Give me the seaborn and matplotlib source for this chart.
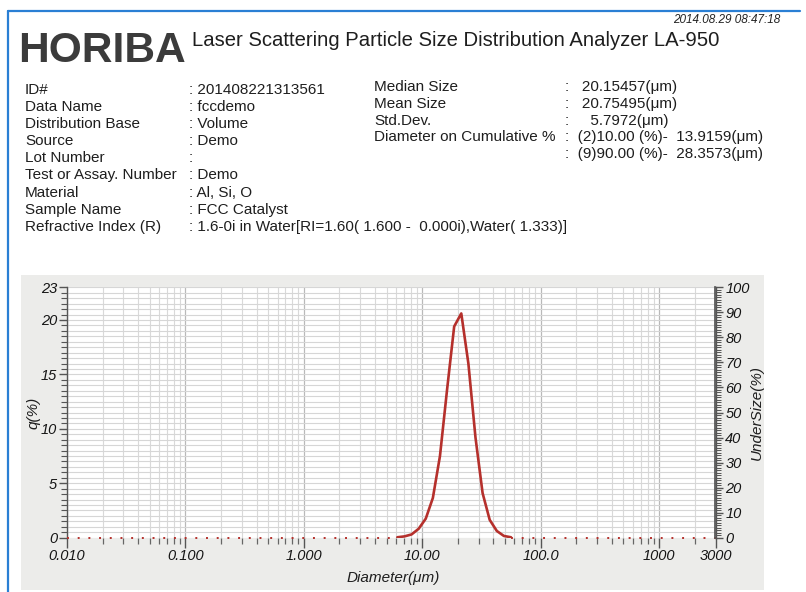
import numpy as np
import pandas as pd
import matplotlib
matplotlib.use("Agg")
import matplotlib.pyplot as plt
import seaborn as sns
from matplotlib import font_manager
from matplotlib.patches import Rectangle
from matplotlib.lines import Line2D
from matplotlib.ticker import FixedLocator, MultipleLocator, NullFormatter, FixedFormatter

# ---------------- data ----------------
diameter_um = [6.166, 7.079, 8.128, 9.333, 10.715, 12.303, 14.125, 16.218, 18.621,
               21.380, 24.547, 28.184, 32.359, 37.154, 42.658, 48.978, 56.234]
q_percent = [0.04, 0.12, 0.30, 0.82, 1.75, 3.65, 7.5, 13.6, 19.4,
             20.6, 16.0, 9.2, 4.1, 1.64, 0.62, 0.16, 0.04]

x_tick_values = [0.01, 0.1, 1, 10, 100, 1000, 3000]
x_tick_labels = ["0.010", "0.100", "1.000", "10.00", "100.0", "1000", "3000"]
y_left_ticks = [0, 5, 10, 15, 20, 23]
y_right_ticks = [0, 10, 20, 30, 40, 50, 60, 70, 80, 90, 100]

info_labels = ["ID#", "Data Name", "Distribution Base", "Source", "Lot Number",
               "Test or Assay. Number", "Material", "Sample Name", "Refractive Index (R)"]
info_values = ["201408221313561", "fccdemo", "Volume", "Demo", "",
               "Demo", "Al, Si, O", "FCC Catalyst",
               "1.6-0i in Water[RI=1.60( 1.600 -  0.000i),Water( 1.333)]"]
stat_labels = ["Median Size", "Mean Size", "Std.Dev.", "Diameter on Cumulative %", ""]
stat_values = [" 20.15457(\u03bcm)", " 20.75495(\u03bcm)", "   5.7972(\u03bcm)",
               "(2)10.00 (%)-  13.9159(\u03bcm)", "(9)90.00 (%)-  28.3573(\u03bcm)"]
timestamp = "2014.08.29 08:47:18"
brand = "HORIBA"
title = "Laser Scattering Particle Size Distribution Analyzer LA-950"

# ---------------- style ----------------
sns.set_theme(style="white")
names = {f.name for f in font_manager.fontManager.ttflist}
narrow = "Liberation Sans Narrow" if "Liberation Sans Narrow" in names else "Liberation Sans"
plt.rcParams["font.family"] = [narrow, "DejaVu Sans"]

W, H = 806, 592
fig = plt.figure(figsize=(W / 100, H / 100), dpi=100)
fig.patch.set_facecolor("white")

def fx(x):
    return x / W

def fy(y):
    return 1 - y / H

# gray panel behind the chart
fig.patches.append(Rectangle((fx(21), fy(590)), fx(764) - fx(21), fy(275) - fy(590),
                             transform=fig.transFigure, facecolor="#ececea",
                             edgecolor="none", zorder=0))
# blue frame lines
fig.add_artist(Line2D([fx(8), fx(8)], [fy(11), fy(592)], color="#2a7fd4", lw=1.6))
fig.add_artist(Line2D([fx(8), fx(800)], [fy(11), fy(11)], color="#2a7fd4", lw=1.6))

renderer = fig.canvas.get_renderer()

def fit_text(x, y, s, width, ha="left", va="center", **kw):
    t = fig.text(fx(x), fy(y), s, ha=ha, va=va, fontsize=10, **kw)
    w = t.get_window_extent(renderer).width
    t.set_fontsize(10 * width / w)
    return t

fit_text(18, 51, brand, 167, fontweight="bold", color="#3b3b3b")
fit_text(192, 41, title, 530, color="#1e1e1e")
fit_text(780, 20, timestamp, 108, ha="right", style="italic", color="#222")

# info block font size from a reference label width
probe = fig.text(0, 0, "Distribution Base", fontsize=10)
fs_info = 10 * 115 / probe.get_window_extent(renderer).width
probe.remove()

row0, drow = 90, 17.1
for i, (lab, val) in enumerate(zip(info_labels, info_values)):
    y = row0 + i * drow
    fig.text(fx(25), fy(y), lab, fontsize=fs_info, va="center", color="#1e1e1e")
    fig.text(fx(189), fy(y), ": " + val, fontsize=fs_info, va="center", color="#1e1e1e")

srow0, sdrow = 87, 16.8
for i, (lab, val) in enumerate(zip(stat_labels, stat_values)):
    y = srow0 + i * sdrow
    if lab:
        fig.text(fx(374), fy(y), lab, fontsize=fs_info, va="center", color="#1e1e1e")
    fig.text(fx(565), fy(y), ":  " + val, fontsize=fs_info, va="center", color="#1e1e1e")

# ---------------- chart ----------------
left, right, bottom, top = 67, 715.5, 537.7, 287.3
ax = fig.add_axes([fx(left), fy(bottom), fx(right) - fx(left), fy(top) - fy(bottom)])
ax.set_facecolor("white")
ax.set_zorder(2)

df = pd.DataFrame({"Diameter": diameter_um, "q": q_percent})
ax.set_xscale("log")
ax.set_xlim(0.01, 3000)
ax.set_ylim(0, 23)

line_color = "#b5302c"
sns.lineplot(data=df, x="Diameter", y="q", ax=ax, color=line_color, lw=1.9, zorder=5)
# zero-level dotted segments outside the distribution
ax.plot([0.01, diameter_um[0]], [0, 0], color=line_color, lw=1.4,
        linestyle=(0, (1, 4.5)), zorder=5, clip_on=False)
ax.plot([diameter_um[-1], 3000], [0, 0], color=line_color, lw=1.4,
        linestyle=(0, (1, 4.5)), zorder=5, clip_on=False)

# x ticks
minor_x = [m * 10.0 ** e for e in range(-2, 4) for m in range(2, 10) if m * 10.0 ** e < 3000]
ax.xaxis.set_major_locator(FixedLocator(x_tick_values))
ax.xaxis.set_major_formatter(FixedFormatter(x_tick_labels))
ax.xaxis.set_minor_locator(FixedLocator(minor_x))
ax.xaxis.set_minor_formatter(NullFormatter())
ax.yaxis.set_major_locator(FixedLocator(y_left_ticks))
ax.yaxis.set_minor_locator(MultipleLocator(0.5))

# grid
ax.grid(True, which="major", axis="x", color="#b9b9b9", lw=0.9, zorder=0)
ax.grid(True, which="minor", axis="x", color="#d9d9d9", lw=0.8, zorder=0)
ax.grid(True, which="both", axis="y", color="#d6d6d6", lw=0.8, zorder=0)
ax.set_axisbelow(True)

for s in ["top", "bottom"]:
    ax.spines[s].set_visible(False)
for s in ["left", "right"]:
    ax.spines[s].set_color("#555555")
    ax.spines[s].set_linewidth(1.0)

ax.tick_params(axis="x", which="major", direction="out", length=7, width=1.0,
               color="#555555", pad=1, bottom=True)
ax.tick_params(axis="x", which="minor", direction="out", length=4, width=0.9,
               color="#666666", bottom=True)
ax.tick_params(axis="y", which="major", direction="out", length=6, width=1.0,
               color="#555555", pad=1, left=True)
ax.tick_params(axis="y", which="minor", direction="out", length=4, width=0.8,
               color="#555555", left=True)
for lab in ax.get_xticklabels() + ax.get_yticklabels():
    lab.set_fontstyle("italic")
    lab.set_fontsize(10.5)
    lab.set_color("#151515")

ax.set_xlabel("")
ax.set_ylabel("")

# right axis
ax2 = ax.twinx()
ax2.set_ylim(0, 100)
ax2.yaxis.set_major_locator(FixedLocator(y_right_ticks))
ax2.yaxis.set_minor_locator(MultipleLocator(1))
ax2.tick_params(axis="y", which="major", direction="out", length=6, width=1.0,
                color="#555555", pad=1, right=True)
ax2.tick_params(axis="y", which="minor", direction="out", length=4, width=0.7,
                color="#555555", right=True)
for s in ["top", "bottom", "left"]:
    ax2.spines[s].set_visible(False)
ax2.spines["right"].set_color("#555555")
for lab in ax2.get_yticklabels():
    lab.set_fontstyle("italic")
    lab.set_fontsize(10.5)
    lab.set_color("#151515")
ax2.grid(False)

# axis titles
fig.text(fx(33), fy(413), "q(%)", rotation=90, ha="center", va="center",
         fontsize=11, style="italic", color="#1e1e1e")
fig.text(fx(757), fy(413), "UnderSize(%)", rotation=90, ha="center", va="center",
         fontsize=11, style="italic", color="#1e1e1e")
fig.text(fx(393), fy(578), "Diameter(\u03bcm)", ha="center", va="center",
         fontsize=11, style="italic", color="#1e1e1e")

fig.savefig("out.png", dpi=100)
